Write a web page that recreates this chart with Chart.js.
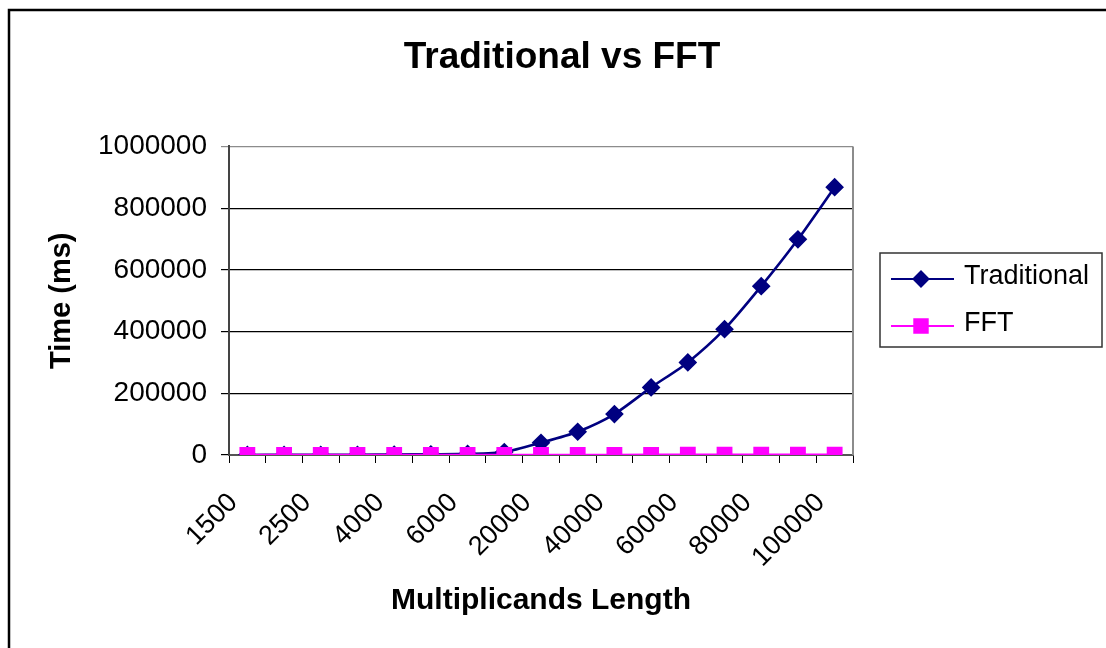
<!DOCTYPE html>
<html>
<head>
<meta charset="utf-8">
<script src="https://cdn.jsdelivr.net/npm/chart.js@4/dist/chart.umd.min.js"></script>
<style>
  html, body { margin: 0; padding: 0; background: #ffffff; }
  #wrap { position: relative; width: 1106px; height: 648px; }
</style>
</head>
<body>
<div id="wrap"><canvas id="chart" width="1106" height="648"></canvas></div>
<script>
// Multiplicand lengths tested
const lengths = ['1500', '2000', '2500', '3000', '4000', '5000', '6000', '10000', '20000',
                 '30000', '40000', '50000', '60000', '70000', '80000', '90000', '100000'];
// Run times in milliseconds
const traditionalMs = [220, 390, 610, 880, 1560, 2440, 3500, 9800, 39800,
                       75400, 132700, 219000, 300000, 407800, 547000, 699000, 868000];
const fftMs = [15, 20, 25, 31, 42, 55, 65, 110, 230,
               350, 470, 600, 720, 850, 980, 1100, 1250];
// Value axis ticks
const timeTicks = [0, 200000, 400000, 600000, 800000, 1000000];

const FONT = "'Liberation Sans', Arial, sans-serif";

// Outer frame, plot-area border and the boxed legend
const decorPlugin = {
  id: 'decor',
  beforeDraw(chart) {
    const ctx = chart.ctx;
    ctx.save();
    ctx.fillStyle = '#ffffff';
    ctx.fillRect(0, 0, chart.width, chart.height);
    ctx.restore();
  },
  afterDatasetsDraw(chart) {
    const { ctx, chartArea: a } = chart;
    ctx.save();
    // plot area right edge
    ctx.strokeStyle = '#8c8c8c';
    ctx.lineWidth = 2;
    ctx.beginPath();
    ctx.moveTo(a.right, a.top);
    ctx.lineTo(a.right, a.bottom);
    ctx.stroke();
    // outer frame
    ctx.strokeStyle = '#000000';
    ctx.lineWidth = 2.5;
    ctx.strokeRect(9, 10, 1200, 800);
    ctx.restore();
  },
  afterDraw(chart) {
    const ctx = chart.ctx;
    const box = { x: 880, y: 253, w: 222, h: 94 };
    ctx.save();
    ctx.strokeStyle = '#333333';
    ctx.lineWidth = 1.5;
    ctx.strokeRect(box.x, box.y, box.w, box.h);
    const rows = [279, 326];
    chart.data.datasets.forEach((ds, i) => {
      const y = rows[i];
      ctx.strokeStyle = ds.borderColor;
      ctx.lineWidth = 2;
      ctx.beginPath();
      ctx.moveTo(891, y);
      ctx.lineTo(954, y);
      ctx.stroke();
      ctx.fillStyle = ds.pointBackgroundColor;
      ctx.strokeStyle = ds.pointBorderColor;
      Chart.helpers.drawPoint(ctx, {
        pointStyle: ds.pointStyle, radius: ds.pointRadius, borderWidth: 1, rotation: 0
      }, 921, y);
      ctx.fillStyle = '#000000';
      ctx.font = '27px ' + FONT;
      ctx.textAlign = 'left';
      ctx.textBaseline = 'middle';
      ctx.fillText(ds.label, 964, y - 2);
    });
    ctx.restore();
  }
};

new Chart(document.getElementById('chart'), {
  type: 'line',
  data: {
    labels: lengths,
    datasets: [
      {
        label: 'Traditional',
        data: traditionalMs,
        borderColor: '#000080',
        backgroundColor: '#000080',
        pointBackgroundColor: '#000080',
        pointBorderColor: '#000080',
        pointStyle: 'rectRot',
        pointRadius: 7.5,
        borderWidth: 2.6,
        tension: 0.25,
        order: 2
      },
      {
        label: 'FFT',
        data: fftMs,
        borderColor: '#ff00ff',
        backgroundColor: '#ff00ff',
        pointBackgroundColor: '#ff00ff',
        pointBorderColor: '#ff00ff',
        pointStyle: 'rect',
        pointRadius: 9.5,
        borderWidth: 2.4,
        tension: 0,
        order: 1
      }
    ]
  },
  options: {
    responsive: false,
    animation: false,
    devicePixelRatio: 1,
    layout: { padding: { left: 18, right: 0, top: 0, bottom: 0 } },
    plugins: {
      legend: { display: false },
      tooltip: { enabled: false },
      title: {
        display: true,
        text: 'Traditional vs FFT',
        color: '#000000',
        font: { family: FONT, size: 37, weight: 'bold' },
        padding: { top: 36, bottom: 66 }
      }
    },
    scales: {
      x: {
        type: 'category',
        offset: true,
        afterFit(s) { s.height = 193; },
        grid: {
          display: true,
          offset: true,
          drawOnChartArea: false,
          drawTicks: true,
          tickLength: 8,
          color: '#000000',
          lineWidth: 1
        },
        border: { display: true, color: '#555555', width: 2 },
        ticks: {
          autoSkip: false,
          maxRotation: 45,
          minRotation: 45,
          padding: 24,
          labelOffset: -14,
          color: '#000000',
          font: { family: FONT, size: 27 },
          callback(value, index) {
            return index % 2 === 0 ? lengths[index] : '';
          }
        },
        title: {
          display: true,
          text: 'Multiplicands Length',
          color: '#000000',
          font: { family: FONT, size: 30, weight: 'bold' },
          padding: { top: 0, bottom: 29 }
        }
      },
      y: {
        type: 'linear',
        position: 'left',
        min: timeTicks[0],
        max: timeTicks[timeTicks.length - 1],
        afterFit(s) { s.width = 211; },
        afterBuildTicks(s) { s.ticks = timeTicks.map(v => ({ value: v })); },
        grid: {
          display: true,
          drawTicks: true,
          tickLength: 8,
          lineWidth: 1.2,
          color(ctx) { return ctx.tick && ctx.tick.value === 1000000 ? '#8c8c8c' : '#000000'; }
        },
        border: { display: true, color: '#444444', width: 2 },
        ticks: {
          padding: 14,
          color: '#000000',
          font: { family: FONT, size: 28 },
          callback(value) { return String(value); }
        },
        title: {
          display: true,
          text: 'Time (ms)',
          color: '#000000',
          font: { family: FONT, size: 29, weight: 'bold' },
          padding: { top: 27, bottom: 0 }
        }
      },
      legendSpace: {
        type: 'linear',
        position: 'right',
        display: true,
        afterFit(s) { s.width = 253; },
        grid: { display: false },
        border: { display: false },
        ticks: { display: false }
      }
    }
  },
  plugins: [decorPlugin]
});
</script>
</body>
</html>
